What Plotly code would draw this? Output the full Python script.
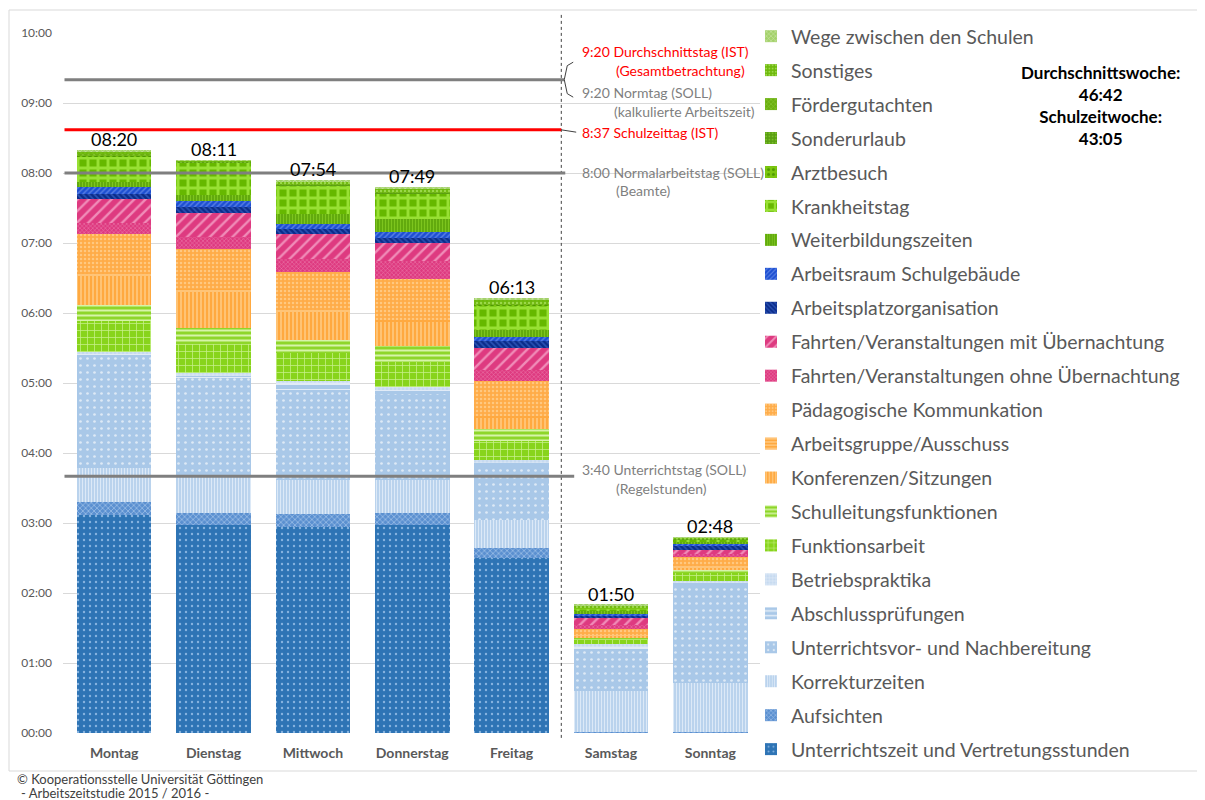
import plotly.graph_objects as go

# ---------------- data (minutes per day) ----------------
days = ["Montag", "Dienstag", "Mittwoch", "Donnerstag", "Freitag", "Samstag", "Sonntag"]
total_labels = ["08:20", "08:11", "07:54", "07:49", "06:13", "01:50", "02:48"]

unterrichtszeit = [187.0, 178.3, 176.8, 178.3, 150.4, 0.3, 0.3]
aufsichten = [11.4, 10.6, 10.9, 10.6, 8.1, 0.3, 0.3]
korrektur = [28.6, 30.9, 29.1, 28.0, 24.0, 35.0, 42.6]
unterrichtsvor = [96.0, 84.3, 77.0, 73.7, 47.5, 35.0, 82.6]
abschluss = [2.4, 2.6, 6.0, 3.4, 1.7, 3.4, 2.6]
betriebspraktika = [1.2, 1.7, 2.0, 3.0, 2.6, 2.0, 2.1]
funktionsarbeit = [26.2, 25.1, 23.7, 21.4, 15.7, 3.9, 6.9]
schulleitung = [13.7, 13.5, 11.7, 12.9, 10.6, 1.9, 2.9]
konferenzen = [25.4, 31.4, 23.7, 20.6, 9.7, 1.7, 1.7]
arbeitsgruppe = [1.2, 2.3, 2.0, 2.3, 1.1, 0.9, 1.3]
paedagogisch = [34.9, 34.0, 32.2, 34.9, 30.0, 5.1, 7.3]
fahrten_ohne = [9.4, 10.8, 11.5, 15.9, 10.0, 3.4, 2.6]
fahrten_mit = [20.6, 20.6, 20.7, 14.9, 18.6, 6.0, 3.8]
arbeitsplatzorg = [4.2, 5.0, 4.7, 4.7, 5.7, 2.0, 3.4]
arbeitsraum = [5.4, 4.9, 4.5, 4.7, 3.8, 1.4, 2.2]
weiterbildung = [5.1, 5.1, 8.4, 11.1, 5.7, 2.1, 1.7]
krankheitstag = [21.4, 27.9, 24.0, 21.7, 21.2, 2.6, 1.7]
arztbesuch = [0.6, 0.3, 0.5, 0.5, 0.5, 0.2, 0.2]
sonderurlaub = [0.6, 0.3, 0.5, 0.5, 0.5, 0.2, 0.2]
foerdergutachten = [0.6, 0.3, 0.5, 0.5, 0.5, 0.3, 0.3]
sonstiges = [2.4, 0.6, 2.0, 2.8, 3.0, 1.5, 0.8]
wege = [1.8, 0.5, 1.6, 2.0, 2.1, 0.8, 0.5]

# reference lines (minutes): 9:20, 8:37, 8:00, 3:40
ref_durchschnitt = 560
ref_schulzeit = 517
ref_normal = 480
ref_unterricht = 220

y_ticks = [0, 60, 120, 180, 240, 300, 360, 420, 480, 540, 600]
y_tick_labels = ["00:00", "01:00", "02:00", "03:00", "04:00", "05:00",
                 "06:00", "07:00", "08:00", "09:00", "10:00"]

# ---------------- series & styles ----------------
series = [
    ("Unterrichtszeit und Vertretungsstunden", unterrichtszeit),
    ("Aufsichten", aufsichten),
    ("Korrekturzeiten", korrektur),
    ("Unterrichtsvor- und Nachbereitung", unterrichtsvor),
    ("Abschlussprüfungen", abschluss),
    ("Betriebspraktika", betriebspraktika),
    ("Funktionsarbeit", funktionsarbeit),
    ("Schulleitungsfunktionen", schulleitung),
    ("Konferenzen/Sitzungen", konferenzen),
    ("Arbeitsgruppe/Ausschuss", arbeitsgruppe),
    ("Pädagogische Kommunkation", paedagogisch),
    ("Fahrten/Veranstaltungen ohne Übernachtung", fahrten_ohne),
    ("Fahrten/Veranstaltungen mit Übernachtung", fahrten_mit),
    ("Arbeitsplatzorganisation", arbeitsplatzorg),
    ("Arbeitsraum Schulgebäude", arbeitsraum),
    ("Weiterbildungszeiten", weiterbildung),
    ("Krankheitstag", krankheitstag),
    ("Arztbesuch", arztbesuch),
    ("Sonderurlaub", sonderurlaub),
    ("Fördergutachten", foerdergutachten),
    ("Sonstiges", sonstiges),
    ("Wege zwischen den Schulen", wege),
]

styles = [
    ("#2E74B5", ".", "#86B3E0", 6, 0.12),
    ("#5B90D0", "x", "#94B9E4", 4, 0.4),
    ("#B7D1EC", "|", "#DCE9F7", 3, 0.4),
    ("#A9C8E8", ".", "#DDE9F6", 7, 0.12),
    ("#A9C8E8", "-", "#E8F0F9", 6, 0.3),
    ("#C6DAF0", "+", "#E4EDF8", 4, 0.3),
    ("#88D41C", "+", "#C8F08C", 7, 0.2),
    ("#8ED62A", "-", "#D6F4A8", 5, 0.4),
    ("#FFA940", "|", "#FFCF8A", 4, 0.35),
    ("#FFA940", "-", "#FFD08F", 4, 0.35),
    ("#FFAC48", ".", "#FFC880", 4, 0.3),
    ("#DE3A80", "x", "#EC7DAD", 3, 0.3),
    ("#DE3A80", "/", "#F08CB8", 8, 0.3),
    ("#0B2C8A", "\\", "#2A52B4", 4, 0.4),
    ("#1D4FD1", "/", "#5B82E6", 4, 0.35),
    ("#5FA70C", "|", "#7DC51E", 3, 0.4),
    ("#66B800", "+", "#98E034", 10, 0.5),
    ("#7CC70F", ".", "#4F9A00", 6, 0.3),
    ("#5A9E12", ".", "#79BE2A", 4, 0.3),
    ("#6BAF10", "x", "#8CCB3A", 4, 0.3),
    ("#6DB80B", ".", "#9BD84A", 4, 0.3),
    ("#A3D16A", "x", "#CFE8AE", 4, 0.3),
]

FONT = "Lato"
GREY = "#595959"

# the page body adds an 8px offset; figure is sized so the page matches 1205x800
PAGE_OFF = 8
FIG_W, FIG_H = 1205 - PAGE_OFF, 800 - PAGE_OFF

fig = go.Figure()
for i, ((name, vals), (col, shp, fg, sz, sol)) in enumerate(zip(series, styles)):
    fig.add_trace(go.Bar(
        x=days, y=vals, name=name, legendgroup=name, legendrank=1000 - i,
        marker=dict(color=col, line=dict(width=0),
                    pattern=dict(shape=shp, fgcolor=fg, bgcolor=col,
                                 size=sz, solidity=sol, fillmode="replace")),
        width=0.75,
    ))

# totals above bars
totals = [sum(s[1][i] for s in series) for i in range(len(days))]
for d, t, lab in zip(days, totals, total_labels):
    fig.add_annotation(x=d, y=t, text=lab, showarrow=False, yanchor="bottom",
                       yshift=-2, font=dict(family=FONT, size=18, color="#000000"))

shapes = []
shapes.append(dict(type="line", xref="x", yref="paper", x0=4.5, x1=4.5, y0=-0.007, y1=1.03,
                   line=dict(color="#404040", width=1, dash="dot"), layer="above"))
shapes.append(dict(type="line", xref="x", yref="y", x0=-0.5, x1=4.53,
                   y0=ref_durchschnitt, y1=ref_durchschnitt,
                   line=dict(color="#7F7F7F", width=3), layer="above"))
shapes.append(dict(type="path", xref="x", yref="y",
                   path=f"M 4.62 575 L 4.56 572 L 4.53 {ref_durchschnitt} L 4.56 548 L 4.62 545",
                   line=dict(color="#404040", width=1), layer="above"))
shapes.append(dict(type="line", xref="x", yref="y", x0=-0.5, x1=4.5,
                   y0=ref_schulzeit, y1=ref_schulzeit,
                   line=dict(color="#FF0000", width=3), layer="above"))
shapes.append(dict(type="line", xref="x", yref="y", x0=4.5, x1=4.65,
                   y0=ref_schulzeit, y1=ref_schulzeit - 2,
                   line=dict(color="#404040", width=1), layer="above"))
shapes.append(dict(type="line", xref="x", yref="y", x0=-0.5, x1=4.54,
                   y0=ref_normal, y1=ref_normal,
                   line=dict(color="#7F7F7F", width=3), layer="above"))
shapes.append(dict(type="line", xref="x", yref="y", x0=-0.5, x1=4.63,
                   y0=ref_unterricht, y1=ref_unterricht,
                   line=dict(color="#7F7F7F", width=3), layer="above"))


def px_x(p):
    return (p - 63) / 697.0


def px_y(p):
    return (733 - p) / 700.0


shapes.append(dict(type="rect", xref="paper", yref="paper", x0=px_x(9), x1=px_x(1203),
                   y0=px_y(771), y1=px_y(10), line=dict(color="#D9D9D9", width=1), layer="below"))

ref_texts = [
    ("9:20 Durchschnittstag (IST)", 580, ref_durchschnitt, 28, "#FF0000"),
    ("(Gesamtbetrachtung)", 614, ref_durchschnitt, 9, "#FF0000"),
    ("9:20 Normtag (SOLL)", 580, ref_durchschnitt, -13, "#7F7F7F"),
    ("(kalkulierte Arbeitszeit)", 612, ref_durchschnitt, -32, "#7F7F7F"),
    ("8:37 Schulzeittag (IST)", 580, ref_schulzeit, -3, "#FF0000"),
    ("8:00 Normalarbeitstag (SOLL)", 580, ref_normal, 1, "#7F7F7F"),
    ("(Beamte)", 614, ref_normal, -17, "#7F7F7F"),
    ("3:40 Unterrichtstag (SOLL)", 580, ref_unterricht, 7, "#7F7F7F"),
    ("(Regelstunden)", 614, ref_unterricht, -12, "#7F7F7F"),
]
for txt, xp, yv, ys, col in ref_texts:
    fig.add_annotation(xref="paper", yref="y", x=px_x(xp), y=yv, yshift=ys, text=txt,
                       showarrow=False, xanchor="left", yanchor="middle",
                       font=dict(family=FONT, size=14, color=col))

fig.add_annotation(xref="paper", yref="paper", x=px_x(1100), y=px_y(105),
                   text="<b>Durchschnittswoche:</b><br><b>46:42</b><br><b>Schulzeitwoche:</b><br><b>43:05</b>",
                   showarrow=False, xanchor="center", yanchor="middle", align="center",
                   font=dict(family=FONT, size=17, color="#000000"))

fig.add_annotation(xref="paper", yref="paper", x=px_x(16), y=px_y(779),
                   text="© Kooperationsstelle Universität Göttingen",
                   showarrow=False, xanchor="left", yanchor="middle", align="left",
                   height=14, borderpad=0,
                   font=dict(family=FONT, size=13, color="#404040"))
fig.add_annotation(xref="paper", yref="paper", x=px_x(20), y=px_y(793),
                   text="- Arbeitszeitstudie 2015 / 2016 -",
                   showarrow=False, xanchor="left", yanchor="middle", align="left",
                   height=14, borderpad=0,
                   font=dict(family=FONT, size=13, color="#404040"))

fig.update_layout(
    width=FIG_W, height=FIG_H,
    margin=dict(l=63 - PAGE_OFF, r=FIG_W - (760 - PAGE_OFF), t=33 - PAGE_OFF,
                b=FIG_H - (733 - PAGE_OFF), autoexpand=False),
    barmode="stack", bargap=0.25,
    paper_bgcolor="white", plot_bgcolor="white",
    font=dict(family=FONT, color=GREY),
    shapes=shapes,
    showlegend=True,
    legend=dict(x=px_x(751), xanchor="left",
                yref="container", y=(FIG_H - (17 - PAGE_OFF)) / FIG_H, yanchor="top",
                maxheight=1,
                traceorder="grouped", tracegroupgap=5.6,
                font=dict(family=FONT, size=19.5, color=GREY),
                bgcolor="rgba(0,0,0,0)"),
    xaxis=dict(showgrid=False, showline=False, ticks="", ticklabelstandoff=10,
               tickfont=dict(family=FONT, size=14, color=GREY, weight="bold")),
    yaxis=dict(range=[0, 600], tickvals=y_ticks, ticktext=y_tick_labels,
               showgrid=True, gridcolor="#D9D9D9", gridwidth=1, zeroline=False,
               showline=False, ticks="", ticklabelstandoff=10,
               tickfont=dict(family=FONT, size=12, color=GREY)),
)

fig.write_html("out.html")
